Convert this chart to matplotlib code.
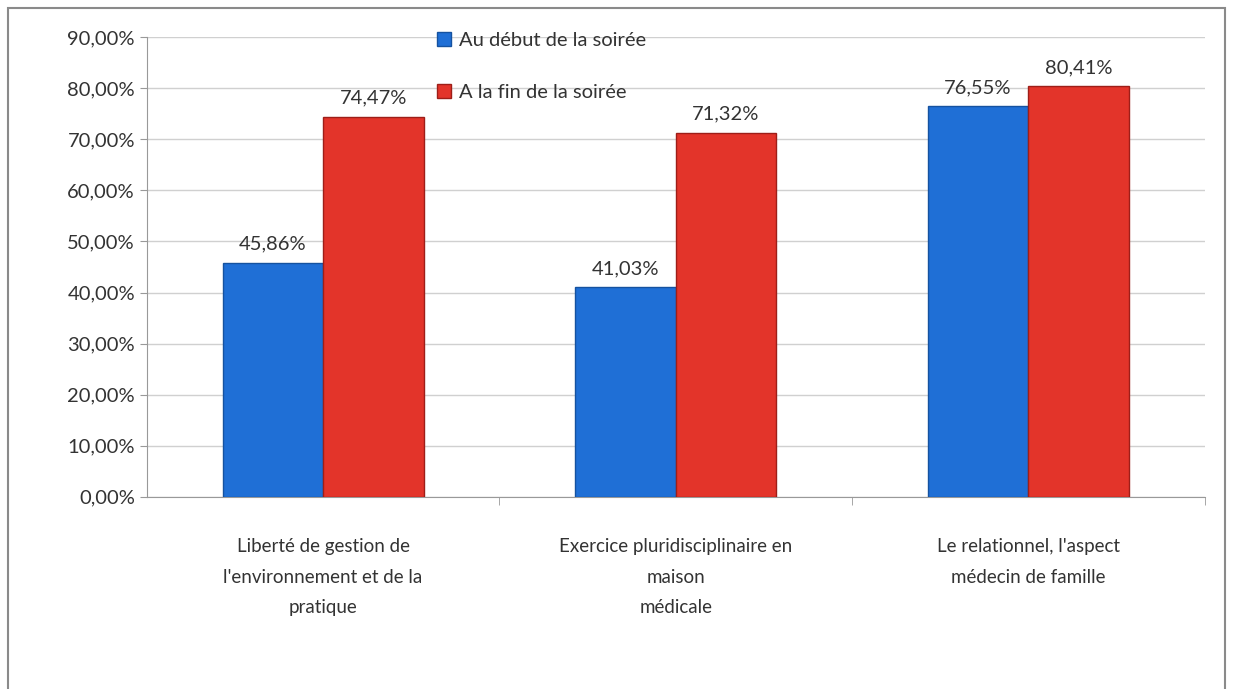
import matplotlib.pyplot as plt
import numpy as np
from matplotlib.patches import Rectangle
from matplotlib.ticker import FuncFormatter

categories = [
    "Liberté de gestion de\nl'environnement et de la\npratique",
    "Exercice pluridisciplinaire en\nmaison\nmédicale",
    "Le relationnel, l'aspect\nmédecin de famille",
]
debut = [45.86, 41.03, 76.55]
fin = [74.47, 71.32, 80.41]
series_names = ["Au début de la soirée", "A la fin de la soirée"]

plt.rcParams["font.family"] = ["Lato", "DejaVu Sans"]

fig = plt.figure(figsize=(12.33, 6.89), dpi=100)
ax = fig.add_axes([0.119, 0.279, 0.858, 0.667])

# outer chart frame
fig.patches.append(Rectangle((0.0065, -0.02), 0.987, 1.008, transform=fig.transFigure,
                             fill=False, edgecolor="#8a8a8a", linewidth=1.5))

x = np.arange(len(categories))
w = 0.285
b1 = ax.bar(x - w / 2, debut, w, color="#1f6fd6", edgecolor="#1552a0", linewidth=1,
            label=series_names[0], zorder=3)
b2 = ax.bar(x + w / 2, fin, w, color="#e3342a", edgecolor="#9e1e18", linewidth=1,
            label=series_names[1], zorder=3)

for bars, vals in [(b1, debut), (b2, fin)]:
    for rect, v in zip(bars, vals):
        ax.annotate(f"{v:.2f}%".replace(".", ","),
                    (rect.get_x() + rect.get_width() / 2, v),
                    xytext=(0, 7), textcoords="offset points",
                    ha="center", va="bottom", fontsize=14.5, color="#333333")

ax.set_xlim(-0.5, 2.5)
ax.set_ylim(0, 90)
ax.set_yticks(np.arange(0, 91, 10))
ax.yaxis.set_major_formatter(FuncFormatter(lambda v, p: f"{v:.2f}%".replace(".", ",")))
ax.tick_params(axis="y", labelsize=14.5, labelcolor="#333333", color="#999999", length=5)
ax.grid(axis="y", color="#d0d0d0", linewidth=1, zorder=0)

ax.set_xticks(x)
ax.set_xticklabels(categories, fontsize=13.5, color="#333333", linespacing=1.95)
ax.tick_params(axis="x", length=0, pad=30)
ax.set_xticks([0.5, 1.5, 2.5], minor=True)
ax.tick_params(axis="x", which="minor", length=6, color="#999999")

for s in ["top", "right"]:
    ax.spines[s].set_visible(False)
ax.spines["left"].set_color("#999999")
ax.spines["bottom"].set_color("#999999")

ax.legend(loc="upper left", bbox_to_anchor=(0.340, 0.98), bbox_transform=fig.transFigure,
          frameon=False, fontsize=14.5, handlelength=0.7, handleheight=0.7,
          handletextpad=0.4, labelspacing=1.75, labelcolor="#333333")

fig.savefig("out.png", dpi=100)
plt.close(fig)
